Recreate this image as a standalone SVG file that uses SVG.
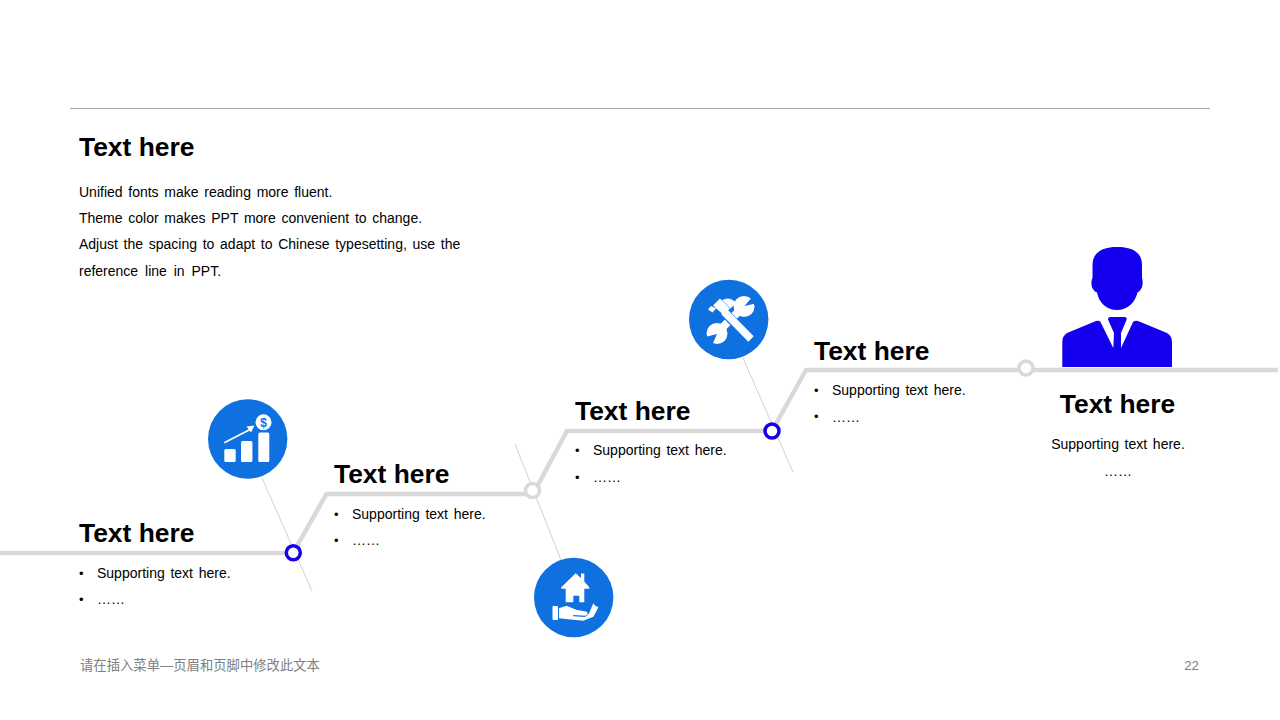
<svg xmlns="http://www.w3.org/2000/svg" width="1280" height="720" viewBox="0 0 1280 720">
<style>
text{font-family:"Liberation Sans",Arial,"Noto Sans CJK SC",sans-serif;fill:#000}
.h{font-size:26.400px;font-weight:bold}
.b{font-size:14px;word-spacing:1.800px}
.d{font-size:13px}
.track{fill:none;stroke:#d9d9d9;stroke-width:4.500}
.thin{stroke:#d0d0d0;stroke-width:1;fill:none}
.ring1{fill:#fff;stroke:#1400ee;stroke-width:3.500}
.ring2{fill:#fff;stroke:#d9d9d9;stroke-width:3.500}
.disc{fill:#0f71e0}
.w{fill:#fff}
.ws{fill:none;stroke:#fff}
.gap{fill:none;stroke:#0f71e0}
.f{font-size:13.330px;fill:#808080}
.p{fill:#1400ee}
</style>
<rect width="1280" height="720" fill="#fff"/>
<line x1="70" y1="108.500" x2="1210" y2="108.500" stroke="#a6a6a6" stroke-width="1"/>
<g id="connectors">
<path class="track" d="M0 553H293L326.500 494H533L567 431H772L806 370H1278"/>
<path class="thin" d="M262 478L312 591"/>
<path class="thin" d="M515 444L561 560"/>
<path class="thin" d="M743 358L793 472"/>
</g>
<g id="intro">
<text class="h" x="79" y="156">Text here</text>
<text class="b" x="79" y="196.500">Unified fonts make reading more fluent.</text>
<text class="b" x="79" y="222.500">Theme color makes PPT more convenient to change.</text>
<text class="b" x="79" y="248.500">Adjust the spacing to adapt to Chinese typesetting, use the</text>
<text class="b" x="79" y="275.500" style="word-spacing:3px">reference line in PPT.</text>
</g>
<g id="node1">
<circle class="ring1" cx="293.300" cy="552.700" r="7"/>
<text class="h" x="79" y="542">Text here</text>
<text class="d" x="79" y="577.500">•</text><text class="b" x="97" y="577.500">Supporting text here.</text>
<text class="d" x="79" y="604">•</text><text class="b" x="97" y="604">……</text>
</g>
<g id="icon1">
<circle class="disc" cx="247.700" cy="439" r="39.700"/>
<rect class="w" x="224.300" y="449" width="11.400" height="13" rx="1.500"/>
<rect class="w" x="241" y="441" width="11.400" height="21" rx="1.500"/>
<rect class="w" x="258.300" y="432.500" width="11" height="29.500" rx="1.500"/>
<path class="ws" stroke-width="1.800" d="M224.300 442.700L250 429.500"/>
<path class="w" d="M254.500 425.500L246.500 426.500L251 432.500Z"/>
<circle class="w" cx="263.500" cy="422.300" r="8"/>
<text x="263.500" y="426.700" text-anchor="middle" style="font-size:12px;font-weight:bold;fill:#0f71e0">$</text>
</g>
<g id="node2">
<circle class="ring2" cx="532.500" cy="490.500" r="7"/>
<text class="h" x="334" y="483">Text here</text>
<text class="d" x="334" y="518.500">•</text><text class="b" x="352" y="518.500">Supporting text here.</text>
<text class="d" x="334" y="545">•</text><text class="b" x="352" y="545">……</text>
</g>
<g id="icon2">
<circle class="disc" cx="573.700" cy="597.500" r="39.700"/>
<path class="w" fill-rule="evenodd" d="M561 587.500L575.700 573.300L581 578V573.500H584.300V581.500L589.500 587.500L589 588.800H584.300V602.300H565.700V588.800H561.500ZM573.300 595.700V602.300H579.300V595.700Z"/>
<rect class="w" x="552.500" y="606" width="5.500" height="14" rx="0.800"/>
<path class="w" d="M559 608.300L566.700 605.700L576.700 610L585 611.200C587.500 611.800 588.300 613.300 587 614.800L585 615.700L573.300 615V616.300L585 617L589 613.500L593.300 603.300L595 605.500L598.300 607.300L596 612L593.300 616.700L583.300 620.700L568.300 619.300L559 618.300Z"/>
</g>
<g id="node3">
<circle class="ring1" cx="772" cy="431" r="7"/>
<text class="h" x="575" y="420">Text here</text>
<text class="d" x="575" y="455">•</text><text class="b" x="593" y="455">Supporting text here.</text>
<text class="d" x="575" y="482">•</text><text class="b" x="593" y="482">……</text>
</g>
<g id="icon3">
<circle class="disc" cx="728.700" cy="319.500" r="39.700"/>
<path class="ws" stroke-width="8" d="M745 305L717 333"/>
<circle class="w" cx="744" cy="306.500" r="10.500"/>
<path class="disc" d="M744.500 306L753 296L757.500 303Z"/>
<circle class="w" cx="717" cy="333.500" r="10.500"/>
<path class="disc" d="M717 334L705 337L712 345.500Z"/>
<path class="gap" stroke-width="9.500" d="M722 310L751 339.500"/>
<path class="w" d="M713 305.500L720 298.500L730 308.500L723.500 315Z"/>
<path class="w" d="M727 298.500C731 298.500 734 300 736 303L730.500 308.500L722 300Z"/>
<path class="w" d="M708 309.500L711 306L716 308.500L712.500 312.500Z"/>
<path class="ws" stroke-width="7.500" d="M724 311.500L751 339"/>
</g>
<g id="node4">
<circle class="ring2" cx="1026" cy="368" r="7"/>
<text class="h" x="814" y="359.500">Text here</text>
<text class="d" x="814" y="394.500">•</text><text class="b" x="832" y="394.500">Supporting text here.</text>
<text class="d" x="814" y="421">•</text><text class="b" x="832" y="421.500">……</text>
</g>
<g id="person">
<path class="p" d="M1092.500 265C1092.500 252 1103 247 1117 247C1132 247 1142 252 1142 265V278C1143 280 1143 287 1141 289C1140 291 1138.500 292 1137.500 292.500C1135 303 1127 310 1117 310C1107 310 1099 303 1097 292.500C1095.500 292 1094 291 1093 289C1091 287 1091 280 1092.500 278Z"/>
<path class="p" d="M1062.300 367V342Q1062.300 336 1067 333L1096 321Q1099 320 1100.500 322L1113.300 348L1114 333L1108 319.500Q1107.800 317 1110 317H1125Q1127 317 1126.700 319.500L1121 333V348L1133 322Q1135 320 1138 321L1167 333Q1172 336 1172 342V367Z"/>
<text class="h" x="1117.500" y="412.500" text-anchor="middle">Text here</text>
<text class="b" x="1118" y="448.500" text-anchor="middle">Supporting text here.</text>
<text class="b" x="1118" y="475.500" text-anchor="middle">……</text>
</g>
<g id="footer">
<text class="f" x="80" y="670">请在插入菜单—页眉和页脚中修改此文本</text>
<text class="f" x="1199" y="670" text-anchor="end">22</text>
</g>
</svg>
